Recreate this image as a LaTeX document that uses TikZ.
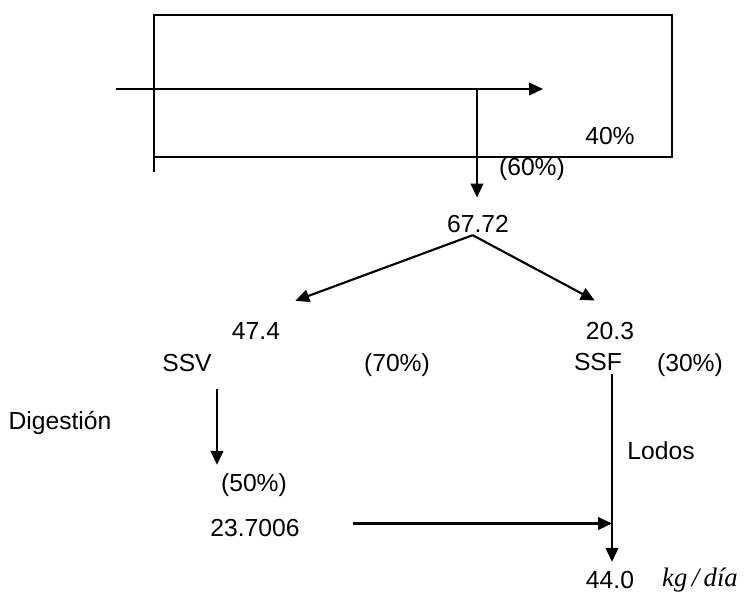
\documentclass[tikz,border=0pt]{standalone}
\usepackage{fontspec}
\setmainfont{Liberation Sans}
\newfontfamily\serifit{Liberation Serif}
\usetikzlibrary{arrows.meta,positioning,calc}
\tikzset{
	lbl/.style={
		anchor=base, inner sep=0pt, text=black,
		font=\fontsize{18.5}{22}\selectfont
	},
	unit/.style={
		anchor=base, inner sep=0pt,
		font=\serifit\itshape\fontsize{20}{24}\selectfont
	},
	flow/.style={-{Triangle[length=10.5pt,width=9.5pt]}, line width=1.6pt},
	wall/.style={line width=1.3pt}
}
\begin{document}
\begin{tikzpicture}[x=0.75pt,y=-0.75pt]
				\useasboundingbox (0,0) rectangle (744,593);
				\draw[wall] (154,172) -- (154,15) -- (672,15) -- (672,157) -- (154,157);
				\node[lbl] (p40)   at (610,144) {40\%};
				\node[lbl] (p60)   at (532,175) {(60\%)};
				\node[lbl] (v6772) at (478,232) {67.72};
				\node[lbl] (v474)  at (256,339) {47.4};
				\node[lbl] (ssv)   at (187,371) {SSV};
				\node[lbl] (p70)   at (397,371) {(70\%)};
				\node[lbl] (v203)  at (610,339) {20.3};
				\node[lbl] (ssf)   at (598,370) {SSF};
				\node[lbl] (p30)   at (690,371) {(30\%)};
				\node[lbl] (dig)   at (60,429)  {Digestión};
				\node[lbl] (p50)   at (254,491) {(50\%)};
				\node[lbl] (v237)  at (255,536) {23.7006};
				\node[lbl] (lodos) at (661,459) {Lodos};
				\node[lbl] (v440)  at (610,588) {44.0};
				\node[unit] (kgdia) at (700,586) {kg\,/\,día};
				\coordinate (feed)  at (116,89);
				\coordinate (over)  at (543,89);
				\coordinate (split) at (477,89);
				\coordinate (lodostop) at ([xshift=10.5pt,yshift=-2.25pt]ssf.south);
				\draw[flow] (feed) -- (over);
				\draw[flow, shorten >=12.75pt] (split) -- (split |- v6772.north);
				\draw[flow] ([xshift=-4pt,yshift=-2pt]v6772.south) -- ([xshift=11.25pt,yshift=15.75pt]v474.north east);
				\draw[flow] ([xshift=-4pt,yshift=-2pt]v6772.south) -- ([xshift=6.75pt,yshift=15.75pt]v203.north west);
				\draw[flow] ([xshift=22.5pt,yshift=-12.75pt]ssv.south) -- ([xshift=-27.75pt,yshift=6pt]p50.north);
				\draw[flow, shorten >=6.5pt] (lodostop) -- (lodostop |- v440.north);
				\draw[flow] ([xshift=39.75pt,yshift=3pt]v237.east) coordinate (mix) -- (mix -| lodostop);
			\end{tikzpicture}
\end{document}
